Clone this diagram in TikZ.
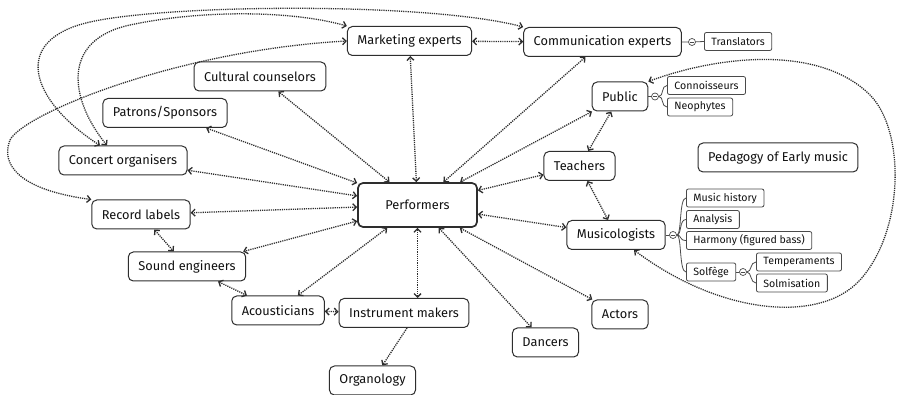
\documentclass[tikz,border=0pt]{standalone}
\usepackage{fontspec}
\setmainfont{Fira Sans}
\usetikzlibrary{arrows.meta}
\definecolor{ink}{HTML}{111111}
\definecolor{frame}{HTML}{2E2E2E}
\definecolor{leafline}{HTML}{4A4A4A}

\begin{document}
\begin{tikzpicture}[x=1pt,y=-1pt,
  font=\fontsize{12.8}{15}\selectfont,
  box/.style={draw=frame,line width=1pt,rounded corners=5pt,fill=white,text=ink,minimum height=29pt,inner xsep=10pt,inner ysep=3pt},
  core/.style={box,line width=1.7pt,minimum width=119pt,minimum height=44pt},
  leaf/.style={draw=leafline,line width=0.8pt,rounded corners=2pt,fill=white,text=ink,minimum height=18pt,inner xsep=7pt,inner ysep=2pt,anchor=west,font=\fontsize{10.6}{12}\selectfont},
  fold/.style={circle,draw=leafline,line width=0.7pt,fill=white,minimum size=7pt,inner sep=0pt,
    path picture={\draw[leafline,line width=0.6pt] ([xshift=1.6pt]path picture bounding box.west) -- ([xshift=-1.6pt]path picture bounding box.east);}},
  branch/.style={leafline,line width=0.8pt},
  link/.style={{Straight Barb[length=3.5pt,width=7pt]}-{Straight Barb[length=3.5pt,width=7pt]},frame,line width=1.3pt,dash pattern=on 1.2pt off 1pt},
  oneway/.style={link,-{Straight Barb[length=3.5pt,width=7pt]}}]
\useasboundingbox (0,0) rectangle (898,395);

% actors of the field
\node[core] (pf) at (417.5,205) {Performers};
\node[box] (mk) at (409.5,41) {Marketing experts};
\node[box] (ce) at (602.5,42) {Communication experts};
\node[box] (cc) at (260,76.5) {Cultural counselors};
\node[box] (ps) at (165,113) {Patrons/Sponsors};
\node[box] (co) at (123,160.5) {Concert organisers};
\node[box] (rl) at (141,214.5) {Record labels};
\node[box] (se) at (187,266.5) {Sound engineers};
\node[box] (acu) at (278,310.5) {Acousticians};
\node[box] (im) at (404,313) {Instrument makers};
\node[box] (og) at (372.5,380.5) {Organology};
\node[box] (dan) at (545.5,342.5) {Dancers};
\node[box] (act) at (620,314.5) {Actors};
\node[box] (mu) at (616,235) {Musicologists};
\node[box] (te) at (579.5,166) {Teachers};
\node[box] (pu) at (620,96.5) {Public};
\node[box] (pe) at (778,157.5) {Pedagogy of Early music};

% sub-topics
\node[fold] (f1) at (692,42) {};
\node[leaf] (tr) at (704,41.5) {Translators};
\node[fold] (f2) at (655,96.5) {};
\node[leaf] (cn) at (667,85.5) {Connoisseurs};
\node[leaf] (ne) at (667,107) {Neophytes};
\node[fold] (f3) at (673,235) {};
\node[leaf] (mh) at (686,198) {Music history};
\node[leaf] (an) at (686,219.5) {Analysis};
\node[leaf] (hb) at (686,240.5) {Harmony (figured bass)};
\node[leaf] (sf) at (686,272) {Solfège};
\node[fold] (f4) at (743,272) {};
\node[leaf] (tm) at (756,262) {Temperaments};
\node[leaf] (sm) at (756,283) {Solmisation};

\draw[branch] (ce.east) -- (f1) -- (tr.west);
\draw[branch] (pu.east) -- (f2);
\foreach \c in {cn,ne} \draw[branch] (f2.east) .. controls +(5,0) and +(-6,0) .. (\c.west);
\draw[branch] (mu.east) -- (f3);
\foreach \c in {mh,an,hb,sf} \draw[branch] (f3.east) .. controls +(5,0) and +(-7,0) .. (\c.west);
\draw[branch] (sf.east) -- (f4);
\foreach \c in {tm,sm} \draw[branch] (f4.east) .. controls +(5,0) and +(-6,0) .. (\c.west);

% links around the performers
\foreach \n in {mk,ce,cc,ps,co,rl,se,acu,dan,act,mu,te,pu}
  \draw[link] (pf) -- (\n);
\draw[link] (pf) -- (pf |- im.north);
\draw[link] (mk) -- (ce);
\draw[link] (rl) -- (se);
\draw[link] (se) -- (acu);
\draw[link] (acu) -- (im);
\draw[oneway] ([xshift=3pt]im.south) -- (og);
\draw[link] (pu) -- (te);
\draw[link] (te) -- (mu);

% long curved links
\draw[link] ([xshift=-23pt]co.north) .. controls (30,100) and (10,40) .. (90,22)
  .. controls (170,4) and (430,2) .. (ce.north west);
\draw[link] ([xshift=-16pt]co.north) .. controls (70,100) and (60,40) .. (130,25)
  .. controls (200,10) and (290,10) .. (mk.north west);
\draw[link] (rl.north west) .. controls (20,190) and (0,165) .. (10,140)
  .. controls (24,113) and (180,50) .. (mk.west);
\draw[link] (pu.north east) .. controls (720,55) and (820,45) .. (870,95)
  .. controls (905,130) and (905,230) .. (860,280)
  .. controls (820,324) and (720,315) .. ([xshift=18pt]mu.south);
\end{tikzpicture}
\end{document}
